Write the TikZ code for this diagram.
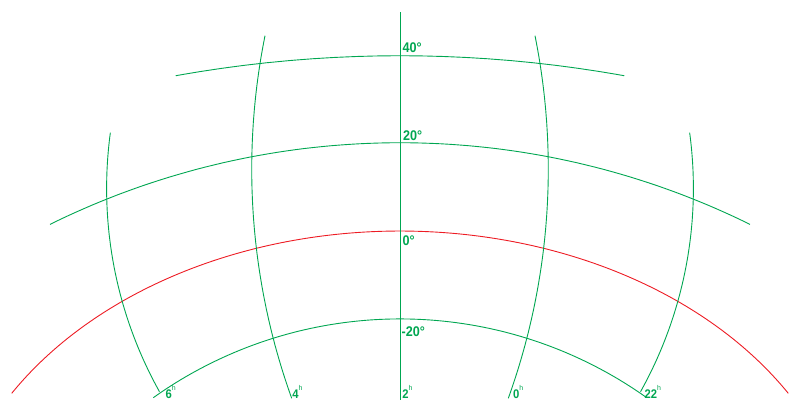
\documentclass[tikz,border=0pt]{standalone}
\usepackage{fontspec}
\setmainfont{Liberation Sans}
\newfontfamily\lblfont[FakeStretch=0.9]{Liberation Sans Bold}
\newfontfamily\supfont{Liberation Sans}
\definecolor{gridgreen}{HTML}{00A651}
\definecolor{gridred}{HTML}{ED1C24}
\tikzset{
  gline/.style={draw=gridgreen, line width=0.9pt},
  rline/.style={draw=gridred, line width=0.9pt},
  declbl/.style={anchor=base west, inner sep=0pt, text=gridgreen, font=\lblfont\fontsize{14}{14}\selectfont},
  hourlbl/.style={anchor=base west, inner sep=0pt, text=gridgreen, font=\lblfont\fontsize{12.5}{12.5}\selectfont},
}
\newcommand{\hsup}{\raisebox{7.5pt}{\supfont\fontsize{7}{7}\selectfont h}}
\begin{document}
\begin{tikzpicture}[x=1pt, y=-1pt]
\useasboundingbox (0,0) rectangle (800,400);
% parallels
\draw[gline] plot[domain=-10.19:10.19, samples=60] ({400+1268*sin(\x)}, {1323.7-1268*cos(\x)});
\draw[gline] plot[domain=-26.26:26.26, samples=80] ({400+791.2*sin(\x)}, {933.9-791.2*cos(\x)});
\draw[rline] plot[domain=-59.0:59.0, samples=120] ({400+453*sin(\x)}, {565.7-334.7*cos(\x)});
\draw[gline] plot[domain=-35.41:35.41, samples=80] ({400+425.8*sin(\x)}, {744.7-425.8*cos(\x)});
% meridians
\draw[gline] (400,12) -- (400,400);
\draw[gline] plot[domain=-11.36:19.79, samples=60] ({928.8-677.1*cos(\x)}, {169.1+677.1*sin(\x)});
\draw[gline] plot[domain=-11.36:19.79, samples=60] ({-128.8+677.1*cos(\x)}, {169.1+677.1*sin(\x)});
\draw[gline] plot[domain=-7.67:29.15, samples=60] ({524-417.4*cos(\x)}, {188.4+417.4*sin(\x)});
\draw[gline] plot[domain=-7.67:29.15, samples=60] ({276+417.4*cos(\x)}, {188.4+417.4*sin(\x)});
% declination labels
\node[declbl] (l40) at (402.5,52.7) {40°};
\node[declbl] (l20) at (403,140) {20°};
\node[declbl] (l0) at (402.5,245.7) {0°};
\node[declbl] (lm20) at (401.5,336.7) {-20°};
% hour labels
\node[hourlbl] (h6) at (165.5,398.3) {6\hsup};
\node[hourlbl] (h4) at (292.2,398.3) {4\hsup};
\node[hourlbl] (h2) at (402.2,398.3) {2\hsup};
\node[hourlbl] (h0) at (512.8,398.3) {0\hsup};
\node[hourlbl] (h22) at (644.5,398.3) {22\hsup};
\end{tikzpicture}
\end{document}
